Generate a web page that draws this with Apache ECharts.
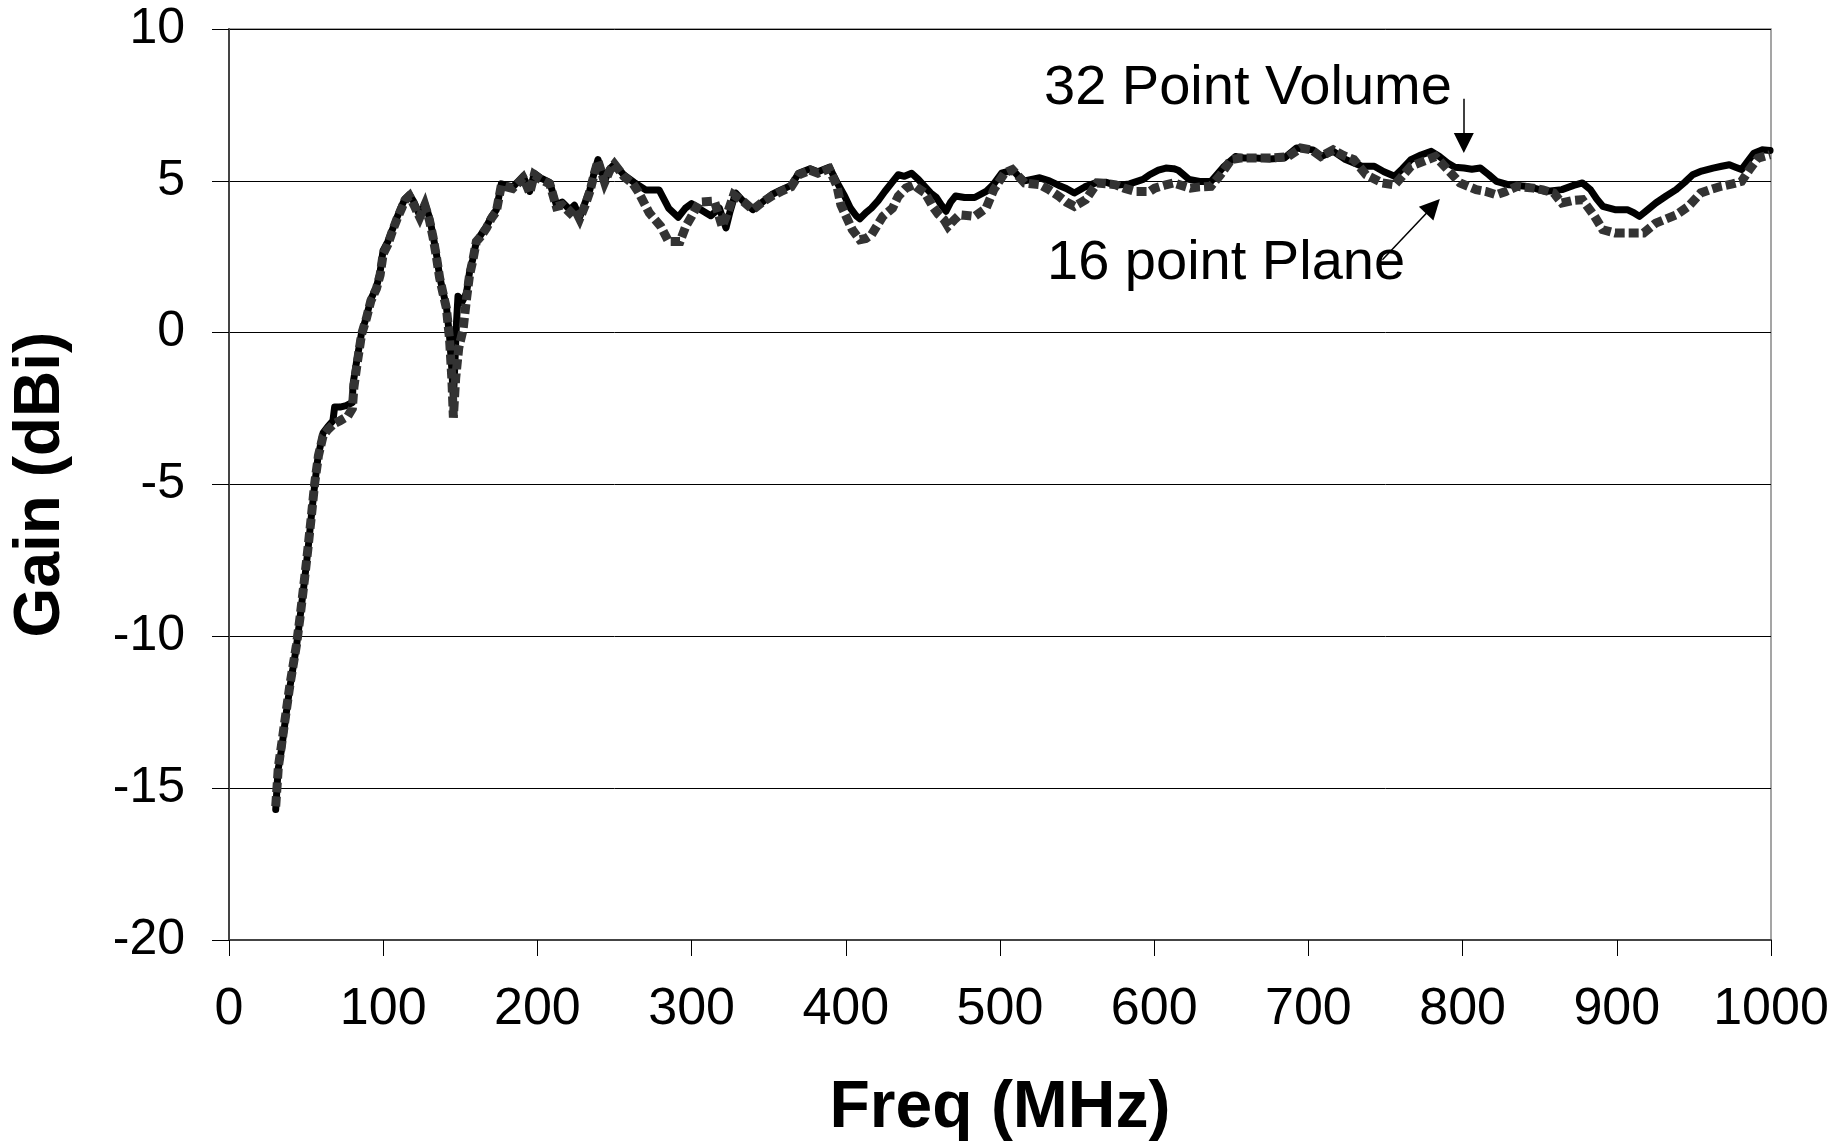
<!DOCTYPE html>
<html>
<head>
<meta charset="utf-8">
<script src="https://cdn.jsdelivr.net/npm/echarts@6/dist/echarts.min.js"></script>
<style>
html,body{margin:0;padding:0;background:#fff;}
#chart{width:1844px;height:1147px;}
</style>
</head>
<body>
<div id="chart"></div>
<script>
// 32 Point Volume (solid black)
const freq32 = [30.3,31.8,34,37.2,39.4,43.7,45.8,49,51.2,53.4,55.6,57.7,61,64,67.4,68.5,72,76,80,80.4,82.6,86,89,92,95.6,98,99.9,103,106,109,111.8,114,117,120,123.7,127,130,132.3,134.5,136.6,139,141,143,144.5,145.5,146.5,147.5,148.5,151,154,156,158,160.4,163,167,170,173.4,176.6,180,184,187,190.7,193,195,198,202,208,212.3,216,221,224,227.4,231,234,237,239.3,243.6,247,250,256,262.7,270.2,278.9,285.1,291.3,296,300,306,312.4,318,322.3,325,328.5,334,339.7,346,352.1,358,364.5,369.5,376.9,381.9,389.3,394.3,399.2,403,406.7,409.1,413,416.6,421,425.3,430,434,438,442.7,447,451.4,455,458.8,462,465,468,471.2,477,483.6,491,496,501,508.4,512,515.9,525.8,532,538.2,543,548.2,555,563,569,575.4,584,592.8,597,602.7,607.6,612.6,615.6,622.6,629.5,636.8,644.8,652.7,658,665.9,675,684.4,692.3,697,703,708.2,716.2,724.1,734.7,742.7,749,755.9,761,766.5,773,779.7,785,790.3,795,800.9,806,811.5,817,822,830,840.6,847,853.8,864.4,872,877.7,882.9,887,890.9,898.8,906.8,911,914.7,920,925.3,932,938.5,944,949.2,955,962.4,968,973,977,980.9,985,988.9,994.1,999.4];
const gain32 = [-15.7,-14.4,-13.75,-12.5,-11.7,-10.35,-9.5,-8.15,-7.15,-6.05,-5.0,-4.1,-3.3,-3.1,-2.9,-2.45,-2.45,-2.4,-2.3,-1.7,-1.0,0.0,0.5,1.1,1.5,2.0,2.7,3.0,3.4,3.8,4.15,4.4,4.55,4.3,3.85,4.25,3.8,3.2,2.6,1.85,1.3,0.85,-0.1,-1.2,-2.2,-1.0,0.3,1.2,1.0,1.3,2.0,2.4,3.0,3.2,3.5,3.8,4.05,4.9,4.85,4.8,4.95,5.15,4.9,4.65,5.25,5.1,4.95,4.2,4.3,4.05,4.2,3.8,4.3,4.7,5.3,5.7,5.0,5.4,5.55,5.2,4.95,4.7,4.7,4.1,3.8,4.1,4.25,4.05,3.85,4.1,3.45,4.0,4.6,4.3,4.05,4.3,4.55,4.7,4.85,5.25,5.4,5.3,5.45,4.95,4.5,4.1,3.85,3.75,3.95,4.1,4.35,4.65,4.95,5.2,5.15,5.25,5.05,4.8,4.6,4.45,4.2,4.0,4.3,4.5,4.45,4.45,4.65,4.9,5.25,5.35,5.15,5.0,5.1,5.0,4.85,4.75,4.6,4.8,4.95,4.95,4.85,4.9,5.05,5.2,5.35,5.42,5.4,5.35,5.05,4.98,4.98,5.45,5.8,5.75,5.75,5.72,5.75,6.08,6.05,6.02,5.8,5.97,5.7,5.48,5.48,5.3,5.15,5.4,5.7,5.85,5.97,5.8,5.59,5.45,5.42,5.38,5.42,5.2,4.98,4.87,4.82,4.75,4.65,4.71,4.85,4.93,4.71,4.4,4.16,4.05,4.05,3.95,3.83,4.05,4.27,4.5,4.71,4.95,5.2,5.32,5.42,5.48,5.53,5.45,5.37,5.65,5.91,6.02,6.0];

// 16 point Plane (grey square-dotted)
const freq16 = [30.3,32,34,37,39.5,43.7,46,49,51.2,53.5,55.6,58,61,64,68,72,77,80,81,83,86,89,92,95.6,98,100,103,106,109,112,114,117,120,123.7,127,130,132.3,134.5,136.6,139,141,143,144.5,145.5,147,149,151.8,154,156,158,160.4,163,167,170,173.4,176.6,180,184,187,190.7,193,195,198,202,208,212.3,216,221,224,227.4,231,234,237,239.3,243.6,247,250,256,262,265.3,272.6,280,285.1,292.5,296.2,300,305,314.8,319.8,323,327.3,334,339.7,346,352.1,358,364.5,369.5,376.9,381.9,389.3,394.3,396.8,400.5,404.2,409.1,413,416.6,420,424,430.3,434,439,443.9,447,451.4,456.3,460,463.7,466.3,470,473.7,480,483.6,491,496,503,508,516,526,532,538.2,543,548.2,555.6,563,570,575,581,587.9,597,600.3,607.6,612.6,623.5,629.5,636.8,643,650,656,666,676,686.9,695,702,708,716,722,729.4,737.4,748,756,766.5,775,782.4,790.3,798.3,808.8,815,822,828,835.3,845.9,852,859.1,864.4,871,877.7,885.6,890.9,898.8,909.4,917.4,925.3,938.5,946.5,954.4,960,967.7,975,980.9,986,991.5,999.4];
const gain16 = [-15.6,-14.3,-13.6,-12.5,-11.6,-10.3,-9.4,-8.1,-7.1,-6.0,-4.95,-4.05,-3.4,-3.2,-3.0,-2.9,-2.75,-2.5,-1.8,-1.05,-0.05,0.45,1.05,1.45,1.9,2.6,2.9,3.35,3.75,4.1,4.35,4.5,4.2,3.8,4.2,3.7,3.15,2.5,1.8,1.25,0.8,-0.2,-1.5,-2.8,-1.5,-0.5,0.1,1.1,1.9,2.35,3.0,3.15,3.45,3.75,4.0,4.85,4.8,4.75,4.9,5.1,4.85,4.6,5.2,5.05,4.9,4.15,4.2,3.95,4.1,3.75,4.2,4.65,5.25,5.65,4.95,5.35,5.55,5.15,4.9,4.65,3.94,3.5,3.0,3.0,3.5,3.83,4.3,4.33,3.5,3.9,4.54,4.3,4.05,4.3,4.5,4.65,4.8,5.2,5.35,5.25,5.4,4.82,4.21,3.8,3.39,3.06,3.1,3.22,3.5,3.83,4.1,4.49,4.76,4.87,4.75,4.6,4.16,3.9,3.72,3.5,3.7,3.88,3.85,3.83,4.1,4.71,5.26,5.37,4.93,4.87,4.7,4.49,4.3,4.16,4.38,4.93,4.9,4.87,4.75,4.65,4.65,4.76,4.87,4.93,4.76,4.8,4.82,5.2,5.7,5.75,5.75,5.75,5.8,6.08,6.02,5.8,6.02,5.85,5.7,5.2,4.93,4.87,5.48,5.65,5.8,5.37,4.93,4.71,4.65,4.54,4.65,4.82,4.76,4.7,4.6,4.27,4.35,4.38,3.83,3.39,3.28,3.28,3.28,3.61,3.88,4.16,4.6,4.7,4.82,4.9,4.98,5.37,5.75,5.86];

const xTicks = [0,100,200,300,400,500,600,700,800,900,1000];
const yTicks = [-20,-15,-10,-5,0,5,10];

// annotation arrows (data coordinates: [freq, gain])
const arrowVolume = [[800.8, 7.7], [800.8, 6.25]];
const arrowPlane = [[748, 2.4], [780.8, 4.16]];

const FONT = '"Liberation Sans", Arial, sans-serif';
const zip = (xs, ys) => xs.map((x, i) => [x, ys[i]]);

const chart = echarts.init(document.getElementById('chart'), null, {renderer: 'canvas'});
chart.setOption({
  backgroundColor: '#ffffff',
  animation: false,
  grid: {left: 229, top: 29, width: 1542, height: 911, show: true, borderColor: '#888', borderWidth: 1.5, backgroundColor: 'transparent'},
  xAxis: {
    type: 'value', min: xTicks[0], max: xTicks[xTicks.length - 1], interval: 100,
    name: 'Freq (MHz)', nameLocation: 'middle', nameGap: 136,
    nameTextStyle: {fontFamily: FONT, fontWeight: 'bold', fontSize: 66, color: '#000'},
    axisLine: {show: true, onZero: false, lineStyle: {color: '#444', width: 2}},
    axisTick: {show: true, inside: false, length: 16, lineStyle: {color: '#000', width: 1}},
    axisLabel: {fontFamily: FONT, fontSize: 52, color: '#000', margin: 44, formatter: v => String(v)},
    splitLine: {show: false}
  },
  yAxis: {
    type: 'value', min: yTicks[0], max: yTicks[yTicks.length - 1], interval: 5,
    name: 'Gain (dBi)', nameLocation: 'middle', nameGap: 156, nameRotate: 90,
    nameTextStyle: {fontFamily: FONT, fontWeight: 'bold', fontSize: 64, color: '#000'},
    axisLine: {show: true, onZero: false, lineStyle: {color: '#444', width: 2}},
    axisTick: {show: true, inside: false, length: 17, lineStyle: {color: '#000', width: 1}},
    axisLabel: {fontFamily: FONT, fontSize: 50, color: '#000', margin: 44, formatter: v => String(v)},
    splitLine: {show: true, lineStyle: {color: '#000', width: 1}}
  },
  series: [
    {
      name: '32 Point Volume', type: 'line', data: zip(freq32, gain32),
      showSymbol: false, symbol: 'none', smooth: false,
      lineStyle: {color: '#000', width: 7, cap: 'round', join: 'round'},
      z: 2,
      markLine: {
        silent: true, symbol: ['none', 'triangle'], symbolSize: 20,
        label: {show: false},
        lineStyle: {color: '#000', width: 1.5, type: 'solid'},
        data: [
          [{coord: arrowVolume[0]}, {coord: arrowVolume[1]}],
          [{coord: arrowPlane[0]}, {coord: arrowPlane[1]}]
        ]
      }
    },
    {
      name: '16 point Plane', type: 'line', data: zip(freq16, gain16),
      showSymbol: false, symbol: 'none', smooth: false,
      lineStyle: {color: '#333', width: 9, type: [10, 4], cap: 'butt', join: 'miter'},
      z: 3
    }
  ],
  graphic: [
    {type: 'text', left: 1044, top: 61, style: {text: '32 Point Volume', font: '56px ' + FONT, fill: '#000'}},
    {type: 'text', left: 1047, top: 236, style: {text: '16 point Plane', font: '56px ' + FONT, fill: '#000'}}
  ]
});
</script>
</body>
</html>
